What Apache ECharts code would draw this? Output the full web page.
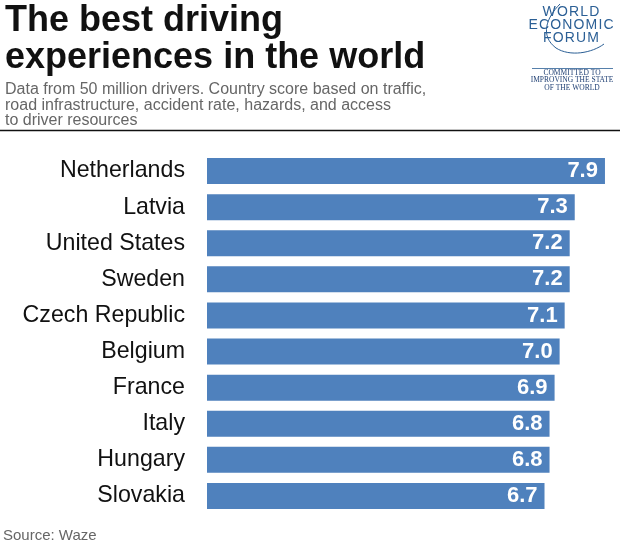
<!DOCTYPE html>
<html><head><meta charset="utf-8">
<script src="https://cdn.jsdelivr.net/npm/echarts@6/dist/echarts.min.js"></script>
<style>html,body{margin:0;padding:0;background:#fff}#c{width:620px;height:545px}</style>
</head><body><div id="c"></div>
<script>
var countries = ["Netherlands","Latvia","United States","Sweden","Czech Republic","Belgium","France","Italy","Hungary","Slovakia"];
var scores = [7.9,7.3,7.2,7.2,7.1,7.0,6.9,6.8,6.8,6.7];
var titleText = "The best driving\nexperiences in the world";
var subText = "Data from 50 million drivers. Country score based on traffic,\nroad infrastructure, accident rate, hazards, and access\nto driver resources";
var sourceText = "Source: Waze";

var chart = echarts.init(document.getElementById('c'), null, {renderer:'canvas'});
var font = "'Liberation Sans', Arial, Helvetica, sans-serif";
var logoBlue = '#2b5f95';
function spaced(s){return s.split('').join('\u200A');}
chart.setOption({
  animation:false,
  backgroundColor:'#fff',
  title:[
    {text:titleText, left:5, top:3, padding:0, textStyle:{fontFamily:font, fontWeight:'bold', fontSize:36, lineHeight:37, color:'#111'}},
    {text:subText, left:5, top:82, padding:0, textStyle:{fontFamily:font, fontWeight:'normal', fontSize:16, lineHeight:15.5, color:'#666'}},
    {text:sourceText, left:3, top:528, padding:0, textStyle:{fontFamily:font, fontWeight:'normal', fontSize:15, color:'#666'}}
  ],
  grid:{left:207, width:403, top:153, height:361, containLabel:false},
  xAxis:{type:'value', min:0, max:8, show:false},
  yAxis:{type:'category', data:countries, inverse:true,
    axisLine:{show:false}, axisTick:{show:false}, splitLine:{show:false},
    axisLabel:{margin:22, padding:[3,0,0,0], fontFamily:font, fontSize:23.2, color:'#111'}},
  series:[{type:'bar', data:scores, barWidth:26,
    itemStyle:{color:'#4f81bd'},
    label:{show:true, position:'insideRight', distance:7, padding:[2,0,0,0], fontFamily:font, fontWeight:'bold', fontSize:22, color:'#fff',
      formatter:function(p){return p.value.toFixed(1);}}
  }],
  graphic:[
    {type:'line', shape:{x1:0,y1:130.5,x2:620,y2:130.5}, style:{stroke:'#111', lineWidth:1.5}},
    {type:'text', style:{text:spaced('WORLD'), x:571, y:12, textAlign:'center', textVerticalAlign:'middle', font:'14px '+font, fill:logoBlue}},
    {type:'text', style:{text:spaced('ECONOMIC'), x:571, y:25, textAlign:'center', textVerticalAlign:'middle', font:'14px '+font, fill:logoBlue}},
    {type:'text', style:{text:spaced('FORUM'), x:571, y:38, textAlign:'center', textVerticalAlign:'middle', font:'14px '+font, fill:logoBlue}},
    {type:'bezierCurve', shape:{x1:560,y1:4,cpx1:546,cpy1:18,cpx2:540,cpy2:36,x2:556,y2:48}, style:{fill:'none', stroke:logoBlue, lineWidth:1}},
    {type:'bezierCurve', shape:{x1:556,y1:48,cpx1:570,cpy1:57,cpx2:592,cpy2:53,x2:604,y2:44}, style:{fill:'none', stroke:logoBlue, lineWidth:1}},
    {type:'line', shape:{x1:532,y1:68.5,x2:613,y2:68.5}, style:{stroke:logoBlue, lineWidth:0.8}},
    {type:'text', style:{text:'COMMITTED TO', x:572, y:73, textAlign:'center', textVerticalAlign:'middle', font:"7.5px 'Liberation Serif', serif", fill:'#1f3f73'}},
    {type:'text', style:{text:'IMPROVING THE STATE', x:572, y:80.5, textAlign:'center', textVerticalAlign:'middle', font:"7.5px 'Liberation Serif', serif", fill:'#1f3f73'}},
    {type:'text', style:{text:'OF THE WORLD', x:572, y:88, textAlign:'center', textVerticalAlign:'middle', font:"7.5px 'Liberation Serif', serif", fill:'#1f3f73'}}
  ]
});
</script></body></html>
